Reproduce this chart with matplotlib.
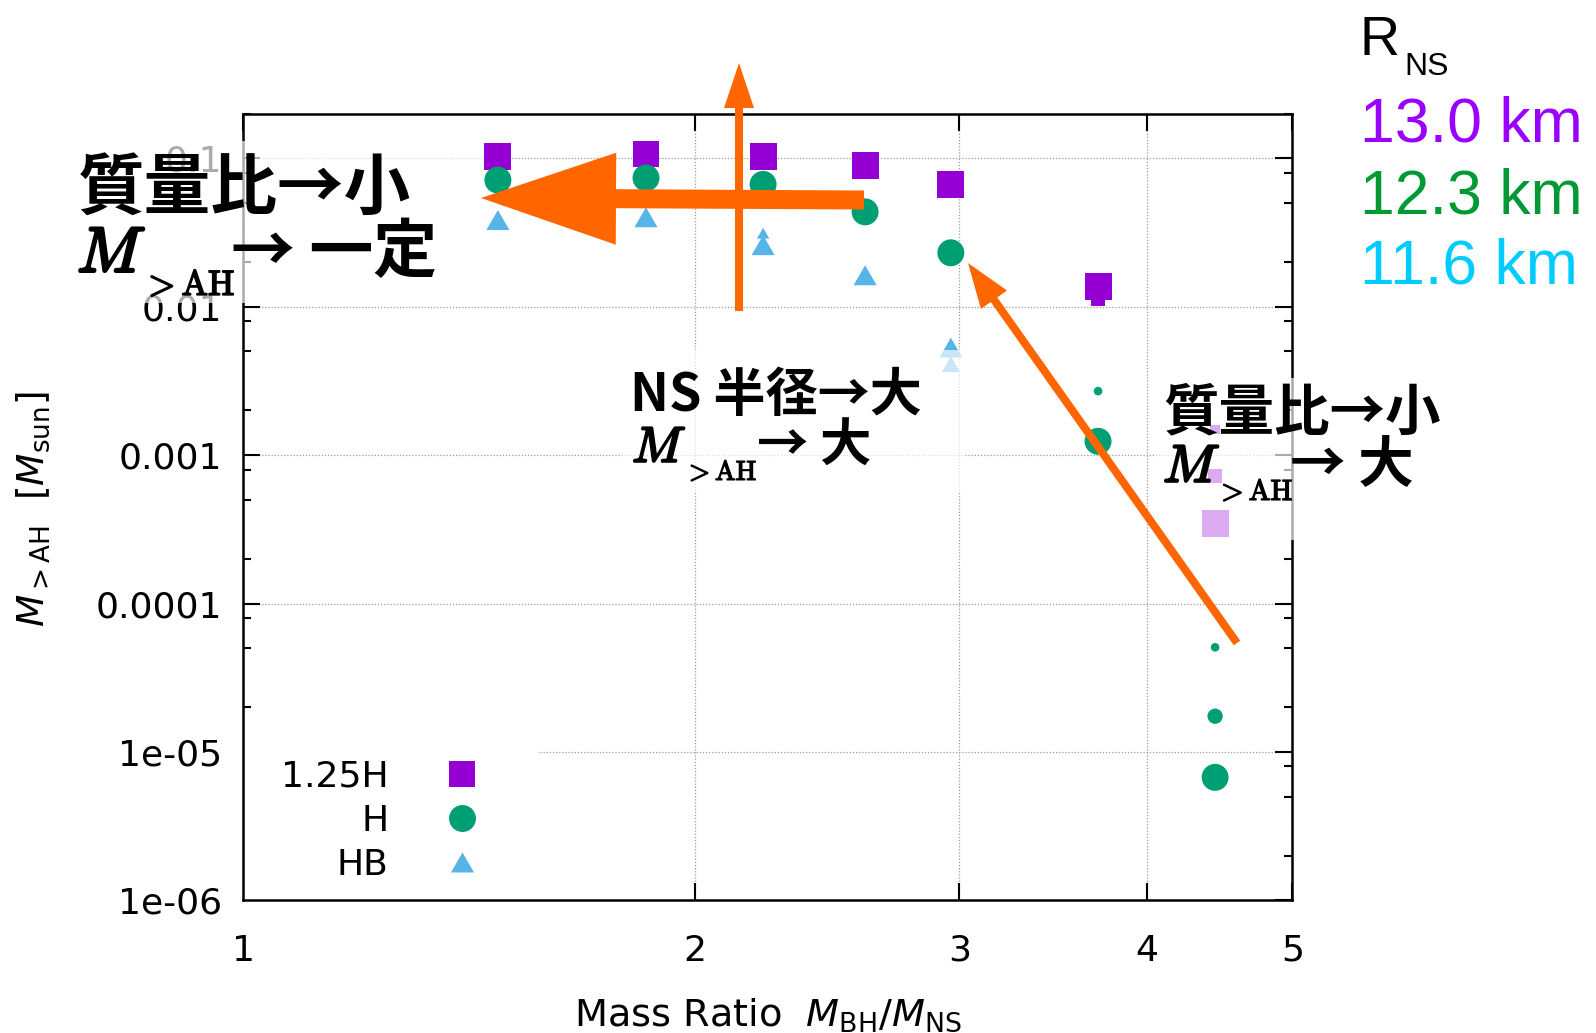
import matplotlib
matplotlib.use("Agg")
import matplotlib.pyplot as plt
import matplotlib.patheffects as pe
from matplotlib.lines import Line2D
from matplotlib.patches import FancyArrow, Rectangle
from matplotlib.ticker import FixedLocator, FixedFormatter, NullLocator

# values: mass ratio M_BH/M_NS and M_>AH [M_sun]
# res = which run the point comes from (hi = big marker, lo = small one)
h125_q = [1.478, 1.855, 2.220, 2.596, 2.961, 3.711, 3.711, 4.441, 4.441, 4.441]
h125_m = [0.103, 0.107, 0.1025, 0.0897, 0.0665, 0.0137, 0.0112, 1.49e-3, 7.26e-4, 3.44e-4]
h125_res = ["hi", "hi", "hi", "hi", "hi", "hi", "mid", "lo", "mid", "hi"]

h_q = [1.478, 1.855, 2.220, 2.596, 2.961, 3.711, 3.711, 4.441, 4.441, 4.441]
h_m = [0.0714, 0.0738, 0.0668, 0.0436, 0.0231, 2.70e-3, 1.24e-3, 5.07e-5, 1.74e-5, 6.74e-6]
h_res = ["hi", "hi", "hi", "hi", "hi", "lo", "hi", "lo", "mid", "hi"]

hb_q = [1.478, 1.855, 2.220, 2.220, 2.596, 2.961, 2.961]
hb_m = [0.0384, 0.0401, 0.0260, 0.0313, 0.0163, 5.3e-3, 4.1e-3]
hb_res = ["hi", "hi", "hi", "lo", "hi", "hi", "mid"]

x_ticks = [1, 2, 3, 4, 5]
y_ticks = [1e-6, 1e-5, 1e-4, 1e-3, 1e-2, 1e-1]
y_tick_labels = ["1e-06", "1e-05", "0.0001", "0.001", "0.01", "0.1"]
legend_labels = ["1.25H", "H", "HB"]
radius_labels = ["13.0 km", "12.3 km", "11.6 km"]

purple = "#9400D3"
green = "#009E73"
blue = "#56B4E9"
orange = "#FF6600"
radius_colors = ["#9900FF", "#009933", "#00CCFF"]
jp = ["Noto Sans CJK JP", "DejaVu Sans"]

tri = [(-1, -0.866), (1, -0.866), (0, 0.866)]
sizes = {
    "s": {"hi": 19.4, "mid": 10.0, "lo": 6.7},
    "o": {"hi": 19.4, "mid": 11.0, "lo": 6.2},
    "t": {"hi": 16.6, "mid": 13.0, "lo": 9.0},
}

W, H = 1596, 1033
fig = plt.figure(figsize=(W / 100, H / 100), dpi=100)
ax = fig.add_axes([243.2 / W, 1 - 900.3 / H, (1292.4 - 243.2) / W, (900.3 - 113.7) / H])
ax.set_xscale("log")
ax.set_yscale("log")
ax.set_xlim(1, 5)
ax.set_ylim(1e-6, 0.2)

ax.scatter(h125_q, h125_m, s=[sizes["s"][r] ** 2 for r in h125_res], marker="s",
           color=purple, linewidths=0, zorder=3)
ax.scatter(h_q, h_m, s=[sizes["o"][r] ** 2 for r in h_res], marker="o",
           color=green, linewidths=0, zorder=3)
ax.scatter(hb_q, hb_m, s=[sizes["t"][r] ** 2 for r in hb_res], marker=tri,
           color=blue, linewidths=0, zorder=3)

ax.xaxis.set_major_locator(FixedLocator(x_ticks))
ax.xaxis.set_major_formatter(FixedFormatter([str(v) for v in x_ticks]))
ax.xaxis.set_minor_locator(NullLocator())
ax.yaxis.set_major_locator(FixedLocator(y_ticks))
ax.yaxis.set_major_formatter(FixedFormatter(y_tick_labels))
ax.yaxis.set_minor_locator(FixedLocator([k * d for d in y_ticks for k in (2, 5, 8)]))

ax.tick_params(which="both", direction="in", top=True, right=True, width=1.5,
               labelsize=26, colors="black")
ax.tick_params(which="major", length=12)
ax.tick_params(which="minor", length=6)
ax.tick_params(axis="y", pad=15)
ax.tick_params(axis="x", pad=24)
for sp in ax.spines.values():
    sp.set_linewidth(1.8)
ax.grid(True, which="major", color="#9a9a9a", linestyle=(0, (1, 1.5)), linewidth=0.9)

handles = [
    Line2D([], [], marker="s", color=purple, ms=19.4, linestyle="none", mew=0),
    Line2D([], [], marker="o", color=green, ms=19.4, linestyle="none", mew=0),
    Line2D([], [], marker=tri, color=blue, ms=16.6, linestyle="none", mew=0),
]
leg = ax.legend(handles, legend_labels, loc="upper left", markerfirst=False,
                bbox_to_anchor=(241 / W, 1 - 720 / H), bbox_transform=fig.transFigure,
                fontsize=26, borderpad=1.1, borderaxespad=0, labelspacing=0.28,
                handlelength=2.0, handletextpad=1.05, frameon=True, framealpha=1,
                edgecolor="none", fancybox=False)
leg.set_zorder(2)

fig.text(33 / W, 1 - 509 / H, r"$M_{>\mathrm{AH}}$  $[M_{\mathrm{sun}}]$", rotation=90,
         ha="center", va="center", fontsize=27)
fig.text(767.8 / W, 1 - 1026 / H, r"Mass Ratio  $M_{\mathrm{BH}}/M_{\mathrm{NS}}$",
         ha="center", va="baseline", fontsize=27.5)

# overlay in pixel coordinates for the hand-drawn notes
ov = fig.add_axes([0, 0, 1, 1], zorder=5)
ov.set_xlim(0, W)
ov.set_ylim(H, 0)
ov.axis("off")
ov.patch.set_alpha(0)

for x0, y0, x1, y1 in [(70, 141, 482, 303), (622, 350, 965, 492), (1155, 378, 1440, 540)]:
    ov.add_patch(Rectangle((x0, y0), x1 - x0, y1 - y0, facecolor="white", alpha=0.67,
                           edgecolor="none", zorder=1))

ov.add_patch(FancyArrow(864, 200, 481 - 864, -2, width=19, head_width=92, head_length=135,
                        length_includes_head=True, color=orange, lw=0, zorder=3))
ov.add_patch(FancyArrow(739, 311, 0, 63 - 311, width=8, head_width=30, head_length=45,
                        length_includes_head=True, color=orange, lw=0, zorder=3))
ov.add_patch(FancyArrow(1237, 643, 968 - 1237, 263 - 643, width=8, head_width=32,
                        head_length=45, length_includes_head=True, color=orange, lw=0,
                        zorder=3))


def m_ah(x, y, size, sub_dx, sub_dy):
    # heavier Computer Modern M, like the pasted-in formula
    ov.text(x, y, r"$M$", fontsize=size, math_fontfamily="cm", va="baseline", zorder=4,
            path_effects=[pe.withStroke(linewidth=size * 0.045, foreground="black")])
    ov.text(x + sub_dx, y + sub_dy, r"$\mathrm{>AH}$", fontsize=size * 0.55,
            math_fontfamily="cm", va="baseline", zorder=4,
            path_effects=[pe.withStroke(linewidth=size * 0.025, foreground="black")])


# top left
ov.text(78, 210, "質量比→小", family=jp, weight="bold", fontsize=48, va="baseline", zorder=4)
m_ah(77, 272, 46, 65, 23)
ov.text(231, 272, "→ 一定", family=jp, weight="bold", fontsize=46, va="baseline", zorder=4)

# middle
ov.text(630, 411, "NS 半径→大", family=jp, weight="bold", fontsize=37.5, va="baseline", zorder=4)
m_ah(632, 462, 36, 52, 18)
ov.text(757, 462, "→ 大", family=jp, weight="bold", fontsize=37, va="baseline", zorder=4)

# right
ov.text(1163, 429, "質量比→小", family=jp, weight="bold", fontsize=40, va="baseline", zorder=4)
m_ah(1163, 482, 38, 53, 18)
ov.text(1290, 482, "→ 大", family=jp, weight="bold", fontsize=40, va="baseline", zorder=4)

# NS radius key at top right
ov.text(1360, 55, "R", family="Liberation Sans", fontsize=40, va="baseline")
ov.text(1404, 75, "NS", family="Liberation Sans", fontsize=23, va="baseline")
for lab, col, yb in zip(radius_labels, radius_colors, [142, 213, 283]):
    ov.text(1360, yb, lab, family="Liberation Sans", fontsize=45, color=col, va="baseline")

fig.savefig("out.png", dpi=100)
